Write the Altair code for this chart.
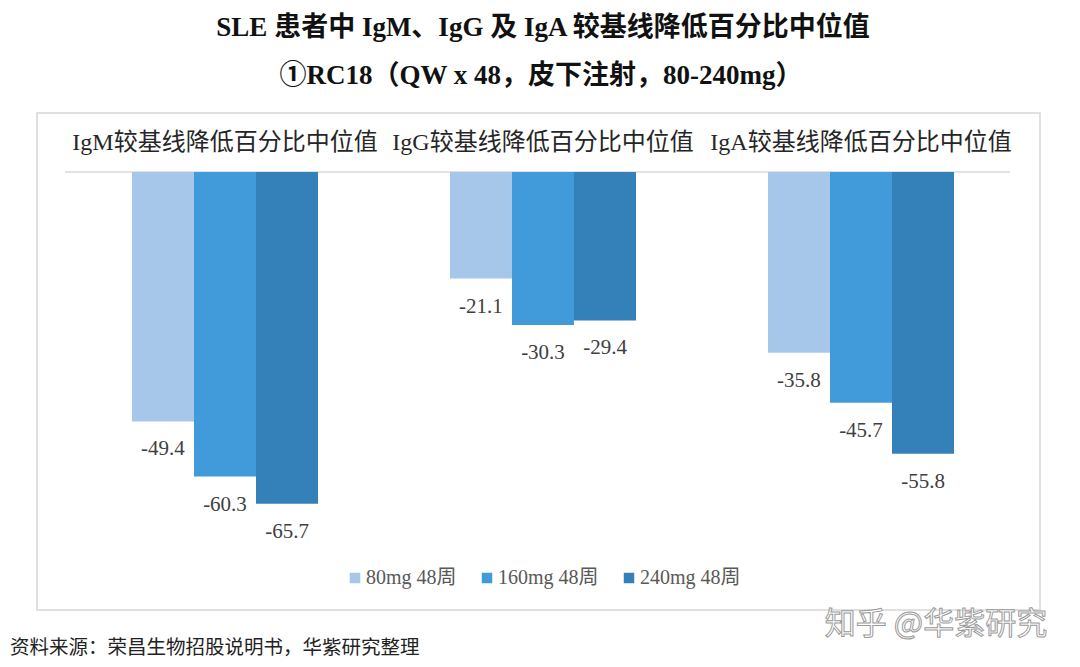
import altair as alt
import pandas as pd

categories = ["IgM", "IgG", "IgA"]
cat_labels = ["IgM较基线降低百分比中位值", "IgG较基线降低百分比中位值", "IgA较基线降低百分比中位值"]
series = ["80mg 48周", "160mg 48周", "240mg 48周"]
values = {
    "80mg 48周": [-49.4, -21.1, -35.8],
    "160mg 48周": [-60.3, -30.3, -45.7],
    "240mg 48周": [-65.7, -29.4, -55.8],
}
colors = ["#A7C7EA", "#419BDB", "#3480B8"]
title_lines = ["SLE 患者中 IgM、IgG 及 IgA 较基线降低百分比中位值",
               "①RC18（QW x 48，皮下注射，80-240mg）"]
source_text = "资料来源：荣昌生物招股说明书，华紫研究整理"
watermark = "知乎 @华紫研究"

rows = []
for s in series:
    for c, v in zip(categories, values[s]):
        rows.append({"cat": c, "series": s, "value": v, "lbl": f"{v:.1f}"})
df = pd.DataFrame(rows)
hdr = pd.DataFrame({"cat": categories, "label": cat_labels})

SERIF = "Liberation Serif, Noto Sans CJK SC"
W, H = 1064, 651

xscale = alt.Scale(domain=categories, range=[58, 1012], paddingInner=0.415, paddingOuter=0.2075)
yscale = alt.Scale(domain=[-80, 0], range=[164 + 80 * 5.05, 164])
cscale = alt.Scale(domain=series, range=colors)
oscale = alt.Scale(domain=series, paddingInner=0, paddingOuter=0)

base = alt.Chart(df)

box = alt.Chart(pd.DataFrame({"k": [0]})).mark_rect(fill="white", stroke="#D6D6D6", strokeWidth=1.5).encode(
    x=alt.value(29), x2=alt.value(1032), y=alt.value(105), y2=alt.value(602))

baseline = alt.Chart(pd.DataFrame({"k": [0]})).mark_rule(color="#D9D9D9", strokeWidth=1.5).encode(
    x=alt.value(57), x2=alt.value(1002), y=alt.value(164))

bars = base.mark_bar(stroke=None).encode(
    x=alt.X("cat:N", scale=xscale, axis=None, sort=categories),
    xOffset=alt.XOffset("series:N", scale=oscale),
    y=alt.Y("value:Q", scale=yscale, axis=None, stack=None),
    y2=alt.datum(0),
    color=alt.Color("series:N", scale=cscale, sort=series,
                    legend=alt.Legend(title=None, orient="none", legendX=337, legendY=560,
                                      direction="horizontal", symbolType="square", symbolSize=110,
                                      symbolStrokeWidth=0, labelFont=SERIF, labelFontSize=20,
                                      labelColor="#595959", columnPadding=20, labelOffset=1,
                                      padding=0)),
)

labels = base.mark_text(font=SERIF, fontSize=21, color="#404040", baseline="middle", dy=28).encode(
    x=alt.X("cat:N", scale=xscale, axis=None, sort=categories),
    xOffset=alt.XOffset("series:N", scale=oscale),
    y=alt.Y("value:Q", scale=yscale, axis=None),
    text="lbl:N",
)

headers = alt.Chart(hdr).mark_text(font=SERIF, fontSize=24, color="#262626", baseline="middle").encode(
    x=alt.X("cat:N", scale=xscale, axis=None, sort=categories),
    y=alt.value(135),
    text="label:N",
)

title_df = pd.DataFrame({"t": title_lines})
title1 = alt.Chart(title_df.iloc[[0]]).mark_text(font=SERIF, fontSize=27, fontWeight="bold", color="#111111",
                                                 baseline="middle").encode(
    x=alt.value(535), y=alt.value(20), text="t:N")
title2 = alt.Chart(title_df.iloc[[1]]).mark_text(font=SERIF, fontSize=27, fontWeight="bold", color="#111111",
                                                 baseline="middle").encode(
    x=alt.value(533), y=alt.value(68), text="t:N")

src = alt.Chart(pd.DataFrame({"t": [source_text]})).mark_text(
    font="Noto Sans CJK SC", fontSize=19.5, color="#222222", align="left", baseline="middle").encode(
    x=alt.value(2), y=alt.value(640), text="t:N")

wm = alt.Chart(pd.DataFrame({"t": [watermark]})).mark_text(
    font="Noto Sans CJK SC", fontSize=31, fill="#FFFFFF", stroke="#9A9A9A", strokeWidth=1,
    align="center", baseline="middle").encode(
    x=alt.value(928), y=alt.value(617), text="t:N")

chart = alt.layer(box, baseline, bars, labels, headers, title1, title2, src, wm).properties(
    width=W, height=H, padding=0, background="white"
).configure_view(stroke=None)

chart.save("out.html", embed_options={"renderer": "svg", "actions": False})
